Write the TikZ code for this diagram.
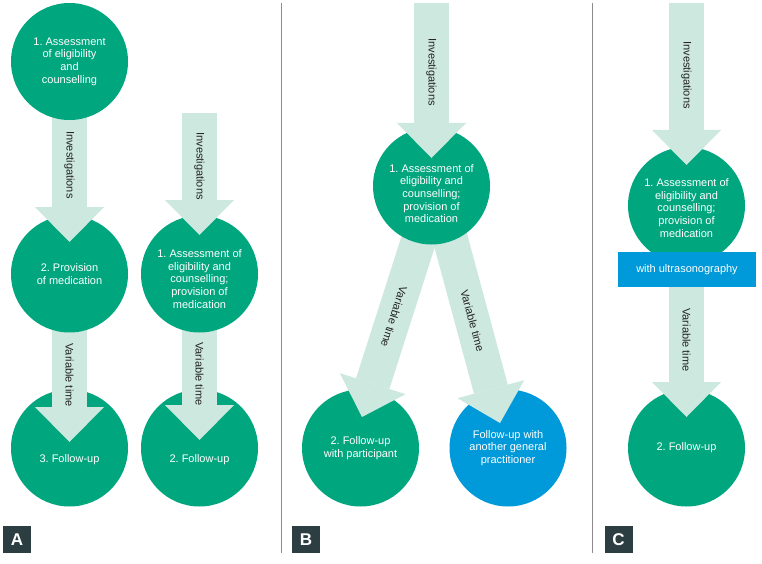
\documentclass[tikz,border=0pt]{standalone}
\usepackage{fontspec}
\setmainfont{Liberation Sans}
\frenchspacing
\usetikzlibrary{calc}
\definecolor{cgreen}{RGB}{0,166,126}
\definecolor{cblue}{RGB}{0,153,217}
\definecolor{cmint}{RGB}{205,232,222}
\definecolor{cdark}{RGB}{45,62,66}
\definecolor{cline}{RGB}{140,140,140}
\definecolor{ctext}{RGB}{35,35,35}
\tikzset{
  bubble/.style={circle, fill=cgreen, minimum size=117pt, inner sep=0pt},
  bluebubble/.style={bubble, fill=cblue},
  btext/.style={text=white, font=\fontsize{11}{12.7}\selectfont, align=center, inner sep=0pt},
  shaft/.style={draw=cmint, line width=35pt},
  headfill/.style={fill=cmint},
  arrlabel/.style={font=\fontsize{11}{13}\selectfont, text=ctext, sloped, allow upside down, inner sep=0pt},
  tag/.style={fill=cdark, text=white, font=\fontsize{17}{17}\selectfont\bfseries, minimum width=28pt, minimum height=27pt, inner sep=0pt},
  divider/.style={draw=cline, line width=1pt},
  usbox/.style={fill=cblue, minimum width=138pt, minimum height=35pt, text=white, font=\fontsize{11}{12.7}\selectfont, inner sep=0pt},
}
% #1 source, #2 tip, #3 name prefix, #4 label node
\newcommand\flowarrow[4]{%
  \coordinate (#3b) at ($(#2.center)!35pt!(#1.center)$);
  \coordinate (#3l) at ($(#3b)!34.5pt!90:(#2.center)$);
  \coordinate (#3r) at ($(#3b)!34.5pt!-90:(#2.center)$);
  \draw[shaft] (#1.center) -- (#3b) #4;
  \fill[headfill] (#2.center) -- (#3l) -- (#3r) -- cycle;}
\begin{document}
\begin{tikzpicture}[x=1pt,y=-1pt]
\fill[white] (0,0) rectangle (762,564);
\useasboundingbox (0,0) rectangle (762,564);

% dividers
\draw[divider] (281,3) -- (281,553);
\draw[divider] (592.5,3) -- (592.5,553);

% ---------- Panel A ----------
\coordinate (pa1) at (69.5,61.5);
\coordinate (pa2) at (69.5,274);
\coordinate (pa3) at (69.5,448);
\coordinate (pa4) at (199.5,274);
\coordinate (pa5) at (199.5,448);
\coordinate (ta1) at (69.5,242);
\coordinate (ta2) at (69.5,442);
\coordinate (sa4) at (199.5,113);
\coordinate (ta4) at (199.5,235);
\coordinate (ta5) at (199.5,440);

\node[bubble] (a3) at (pa3) {};
\node[btext] (a3t) at ($(a3.center)+(0,12)$) {3. Follow-up};
\flowarrow{pa2}{ta2}{fa2}{node[arrlabel,pos=0.76] (la2) {Variable time}}
\node[bubble] (a2) at (pa2) {};
\node[btext] (a2t) at (a2.center) {2. Provision\\of medication};
\flowarrow{pa1}{ta1}{fa1}{node[arrlabel,pos=0.711] (la1) {Investigations}}
\node[bubble] (a1) at (pa1) {};
\node[btext] (a1t) at (a1.center) {1. Assessment\\of eligibility\\and\\counselling};

\node[bubble] (a5) at (pa5) {};
\node[btext] (a5t) at ($(a5.center)+(0,12)$) {2. Follow-up};
\flowarrow{pa4}{ta5}{fa5}{node[arrlabel,pos=0.763] (la5) {Variable time}}
\node[bubble] (a4) at (pa4) {};
\node[btext] (a4t) at ($(a4.center)+(0,5)$) {1. Assessment of\\eligibility and\\counselling;\\provision of\\medication};
\flowarrow{sa4}{ta4}{fa4}{node[arrlabel,pos=0.61] (la4) {Investigations}}

\node[tag] (tagA) at (17,539.5) {A};

% ---------- Panel B ----------
\coordinate (pb1) at (431.5,186);
\coordinate (sb0) at (431.5,3);
\coordinate (tb1) at (431.5,158);
\coordinate (sb1) at (436,186);
\coordinate (tb2) at (362,417);
\coordinate (tb3) at (500,423);

\node[bubble] (b2) at (360.5,448) {};
\node[btext] (b2t) at (b2.center) {2. Follow-up\\with participant};
\node[bluebubble] (b3) at (508,448) {};
\node[btext] (b3t) at (b3.center) {Follow-up with\\another general\\practitioner};
\flowarrow{sb1}{tb2}{fb2}{node[arrlabel,pos=0.662] (lb2) {Variable time}}
\flowarrow{sb1}{tb3}{fb3}{node[arrlabel,pos=0.665] (lb3) {Variable time}}
\node[bubble] (b1) at (pb1) {};
\node[btext] (b1t) at ($(b1.center)+(0,7.5)$) {1. Assessment of\\eligibility and\\counselling;\\provision of\\medication};
\flowarrow{sb0}{tb1}{fb1}{node[arrlabel,pos=0.575] (lb1) {Investigations}}

\node[tag] (tagB) at (306,539.5) {B};

% ---------- Panel C ----------
\coordinate (pc1) at (686.5,205.5);
\coordinate (sc0) at (686.5,3);
\coordinate (tc1) at (686.5,165);
\coordinate (tc2) at (686.5,417);

\node[bubble] (c2) at (686.5,448) {};
\node[btext] (c2t) at (c2.center) {2. Follow-up};
\flowarrow{pc1}{tc2}{fc2}{node[arrlabel,pos=0.762] (lc2) {Variable time}}
\node[bubble] (c1) at (pc1) {};
\node[btext] (c1t) at ($(c1.center)+(0,2.5)$) {1. Assessment of\\eligibility and\\counselling;\\provision of\\medication};
\node[usbox] (us) at (687,269.5) {with ultrasonography};
\flowarrow{sc0}{tc1}{fc1}{node[arrlabel,pos=0.567] (lc1) {Investigations}}

\node[tag] (tagC) at (618.5,539.5) {C};
\end{tikzpicture}
\end{document}
